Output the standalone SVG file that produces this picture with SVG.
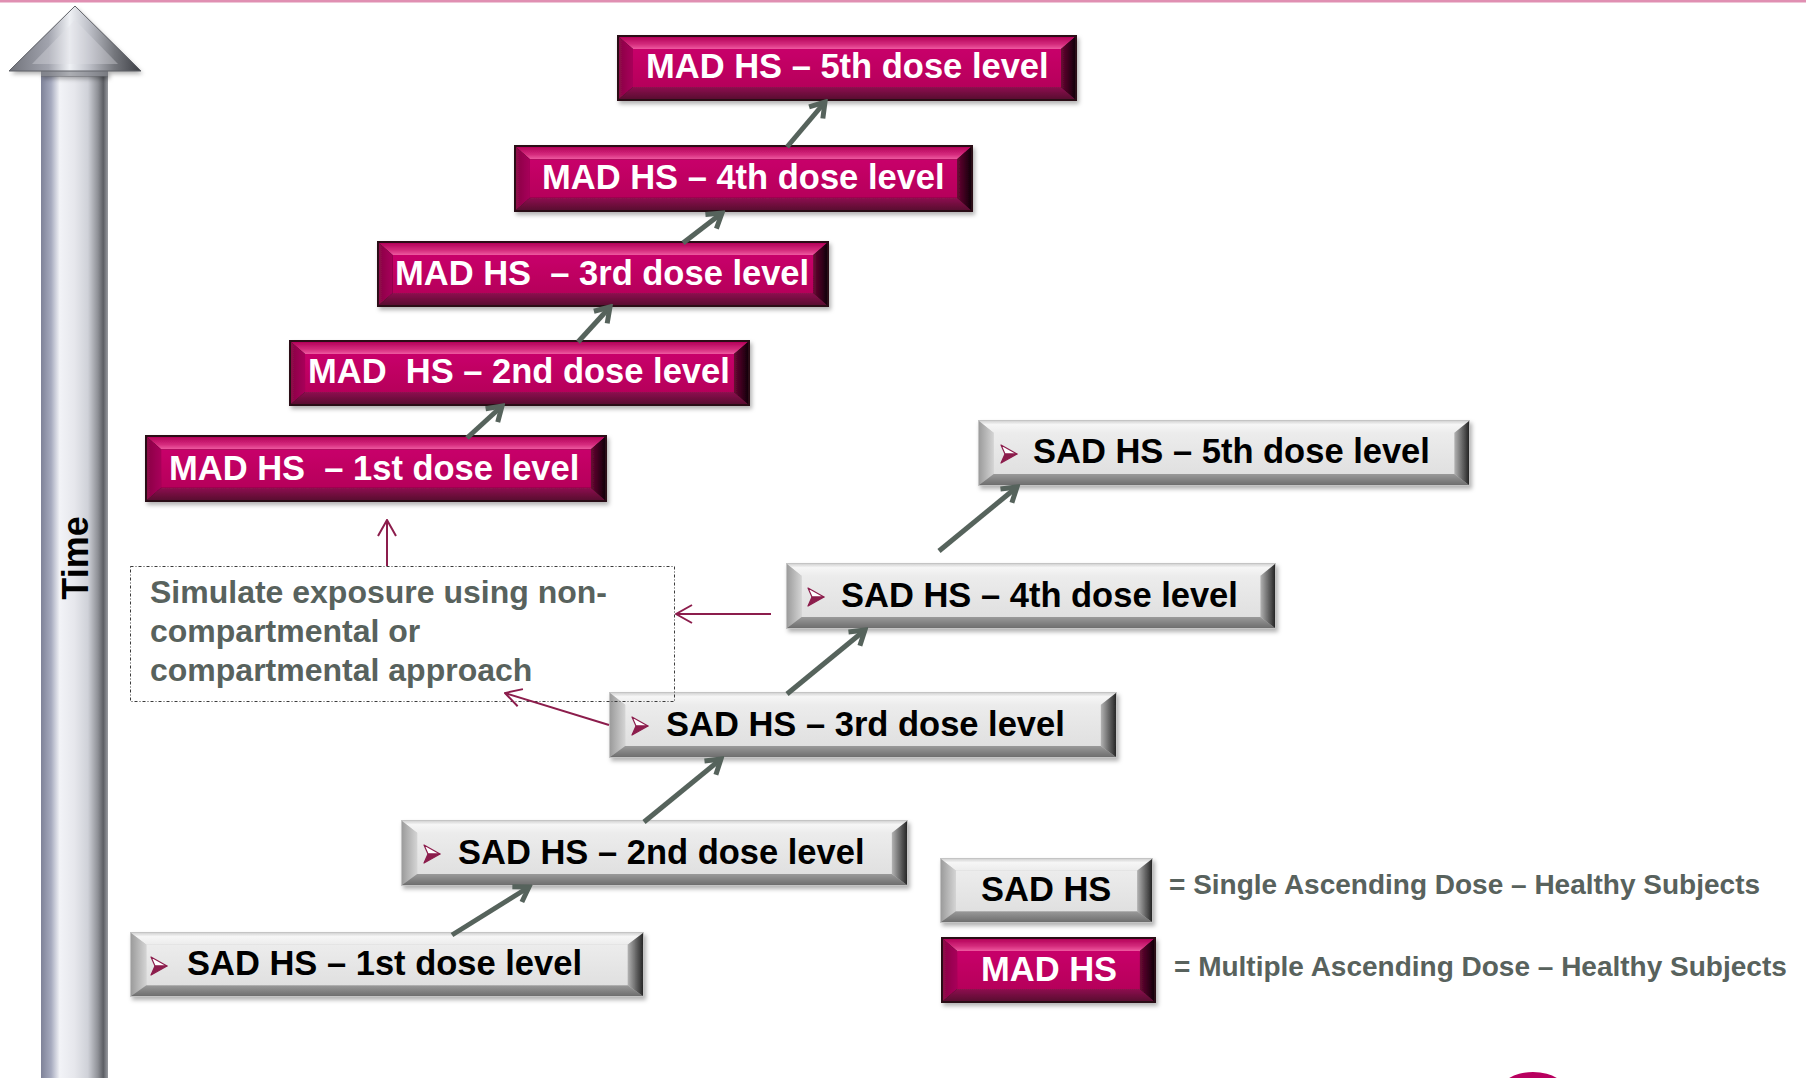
<svg xmlns="http://www.w3.org/2000/svg" xmlns:xlink="http://www.w3.org/1999/xlink" width="1806" height="1078" viewBox="0 0 1806 1078">
<style>
.mt{font-family:"Liberation Sans",Arial,sans-serif;font-weight:bold;font-size:34.5px;fill:#ffffff}
.st{font-family:"Liberation Sans",Arial,sans-serif;font-weight:bold;font-size:34.5px;fill:#000000}
.gt{font-family:"Liberation Sans",Arial,sans-serif;font-weight:bold;font-size:32px;fill:#58625d}
.lt{font-family:"Liberation Sans",Arial,sans-serif;font-weight:bold;font-size:28px;fill:#58625d}
.tt{font-family:"Liberation Sans",Arial,sans-serif;font-weight:bold;font-size:36px;fill:#000000}
.conn{fill:none;stroke:#56635c;stroke-width:5;marker-end:url(#ga)}
.link{fill:none;stroke:#8c1d4c;stroke-width:2;marker-end:url(#ma)}
</style>
<defs>
<filter id="sh" x="-5%" y="-20%" width="112%" height="150%">
<feDropShadow dx="2" dy="3" stdDeviation="2" flood-color="#000" flood-opacity="0.3"/>
</filter>
<linearGradient id="mTop" x1="0" y1="0" x2="0" y2="1"><stop offset="0" stop-color="#b4005a"/><stop offset="0.6" stop-color="#d42a7c"/><stop offset="1" stop-color="#ee5aa0"/></linearGradient>
<linearGradient id="mFace" x1="0" y1="0" x2="0" y2="1"><stop offset="0" stop-color="#c8066a"/><stop offset="1" stop-color="#b6005a"/></linearGradient>
<linearGradient id="mBot" x1="0" y1="0" x2="0" y2="1"><stop offset="0" stop-color="#8e1250"/><stop offset="1" stop-color="#5a0a30"/></linearGradient>
<linearGradient id="mLeft" x1="0" y1="0" x2="1" y2="0"><stop offset="0" stop-color="#8a0846"/><stop offset="1" stop-color="#a8005a"/></linearGradient>
<linearGradient id="mRight" x1="0" y1="0" x2="1" y2="0"><stop offset="0" stop-color="#6a0834"/><stop offset="1" stop-color="#14000a"/></linearGradient>
<linearGradient id="sTop" x1="0" y1="0" x2="0" y2="1"><stop offset="0" stop-color="#d4d4d4"/><stop offset="0.3" stop-color="#f6f6f6"/><stop offset="1" stop-color="#ececec"/></linearGradient>
<linearGradient id="sFace" x1="0" y1="0" x2="0" y2="1"><stop offset="0" stop-color="#ececec"/><stop offset="1" stop-color="#e0e0e0"/></linearGradient>
<linearGradient id="sBot" x1="0" y1="0" x2="0" y2="1"><stop offset="0" stop-color="#9a9a9a"/><stop offset="1" stop-color="#6e6e6e"/></linearGradient>
<linearGradient id="sLeft" x1="0" y1="0" x2="1" y2="0"><stop offset="0" stop-color="#9c9c9c"/><stop offset="1" stop-color="#d4d4d4"/></linearGradient>
<linearGradient id="sRight" x1="0" y1="0" x2="1" y2="0"><stop offset="0" stop-color="#b4b4b4"/><stop offset="1" stop-color="#262626"/></linearGradient>
<linearGradient id="shaftG" gradientUnits="userSpaceOnUse" x1="41" y1="0" x2="108" y2="0">
<stop offset="0" stop-color="#7e8298"/><stop offset="0.15" stop-color="#a6aabe"/><stop offset="0.28" stop-color="#f2f3f7"/><stop offset="0.5" stop-color="#e6e7ec"/><stop offset="0.7" stop-color="#cfd1d8"/><stop offset="0.85" stop-color="#8e9096"/><stop offset="0.93" stop-color="#5c5e64"/><stop offset="1" stop-color="#9a9ca2"/>
</linearGradient>
<linearGradient id="headG" gradientUnits="userSpaceOnUse" x1="9" y1="0" x2="141" y2="0">
<stop offset="0" stop-color="#70727a"/><stop offset="0.3" stop-color="#a2a4ae"/><stop offset="0.46" stop-color="#eef0f4"/><stop offset="0.6" stop-color="#c0c2ca"/><stop offset="0.8" stop-color="#74767c"/><stop offset="1" stop-color="#3c3e44"/>
</linearGradient>
<marker id="ga" viewBox="0 0 24 24" refX="20" refY="12" markerWidth="24" markerHeight="24" markerUnits="userSpaceOnUse" orient="auto">
<path d="M6,3 L20,12 L6,21" fill="none" stroke="#56635c" stroke-width="5"/>
</marker>
<marker id="ma" viewBox="0 0 20 20" refX="19" refY="10" markerWidth="20" markerHeight="20" markerUnits="userSpaceOnUse" orient="auto">
<path d="M3,1 L19,10 L3,19" fill="none" stroke="#8c1d4c" stroke-width="2"/>
</marker>
<symbol id="madBtn" viewBox="0 0 460 66" preserveAspectRatio="none">
<rect x="0" y="0" width="460" height="66" fill="#2a0a18"/>
<polygon points="2,2 458,2 444,14 16,14" fill="url(#mTop)"/>
<polygon points="2,2 16,14 16,52 2,64" fill="url(#mLeft)"/>
<polygon points="2,64 458,64 444,52 16,52" fill="url(#mBot)"/>
<polygon points="458,2 444,14 444,52 458,64" fill="url(#mRight)"/>
<rect x="16" y="14" width="428" height="38" fill="url(#mFace)"/>
</symbol>
<symbol id="madSm" viewBox="0 0 214 66" preserveAspectRatio="none">
<rect x="0" y="0" width="214" height="66" fill="#2a0a18"/>
<polygon points="2,2 212,2 198,14 16,14" fill="url(#mTop)"/>
<polygon points="2,2 16,14 16,52 2,64" fill="url(#mLeft)"/>
<polygon points="2,64 212,64 198,52 16,52" fill="url(#mBot)"/>
<polygon points="212,2 198,14 198,52 212,64" fill="url(#mRight)"/>
<rect x="16" y="14" width="182" height="38" fill="url(#mFace)"/>
</symbol>
<symbol id="sadBtn" viewBox="0 0 500 66" preserveAspectRatio="none">
<rect x="0" y="0" width="500" height="66" fill="#c4c4c4"/>
<polygon points="1,1 499,1 484,13 16,13" fill="url(#sTop)"/>
<polygon points="1,1 16,13 16,54 1,65" fill="url(#sLeft)"/>
<polygon points="1,65 499,65 484,54 16,54" fill="url(#sBot)"/>
<polygon points="499,1 484,13 484,54 499,65" fill="url(#sRight)"/>
<rect x="16" y="13" width="468" height="41" fill="url(#sFace)"/>
</symbol>
<symbol id="sadSm" viewBox="0 0 214 66" preserveAspectRatio="none">
<rect x="0" y="0" width="214" height="66" fill="#c4c4c4"/>
<polygon points="1,1 213,1 198,13 16,13" fill="url(#sTop)"/>
<polygon points="1,1 16,13 16,54 1,65" fill="url(#sLeft)"/>
<polygon points="1,65 213,65 198,54 16,54" fill="url(#sBot)"/>
<polygon points="213,1 198,13 198,54 213,65" fill="url(#sRight)"/>
<rect x="16" y="13" width="182" height="41" fill="url(#sFace)"/>
</symbol>
<g id="bul">
<path d="M0,-9 L16,0 L4,0 Z" fill="#ffffff" stroke="#8c1d4c" stroke-width="1.2" stroke-linejoin="round"/>
<path d="M4,0 L16,0 L0,9 Z" fill="#8c1d4c" stroke="#8c1d4c" stroke-width="1.2" stroke-linejoin="round"/>
</g>
</defs>
<rect x="0" y="0" width="1806" height="1078" fill="#ffffff"/>
<rect x="0" y="0" width="1806" height="2.5" fill="#e08fb2"/>
<ellipse cx="1533" cy="1096" rx="36" ry="24" fill="#b8005f"/>

<g id="time-axis">
<rect x="41" y="68" width="67" height="1012" fill="url(#shaftG)"/>
<polygon points="75,6 141,71 108,71 108,76 41,76 41,71 9,71" fill="url(#headG)" filter="url(#sh)"/>
<polygon points="75,6 141,71 9,71" fill="url(#headG)" stroke="#5e6066" stroke-width="1"/>
<polygon points="75,20 118,64 32,64" fill="#dfe0e6" opacity="0.35"/>
<rect x="41" y="71" width="67" height="6" fill="#6a6c72" opacity="0.5"/>
<text class="tt" transform="translate(88,558) rotate(-90)" text-anchor="middle">Time</text>
</g>

<g id="mad5"><use href="#madBtn" x="617" y="35" width="460" height="66" filter="url(#sh)"/><text class="mt" x="646" y="78">MAD HS – 5th dose level</text></g>
<g id="mad4"><use href="#madBtn" x="514" y="145" width="459" height="67" filter="url(#sh)"/><text class="mt" x="542" y="189">MAD HS – 4th dose level</text></g>
<g id="mad3"><use href="#madBtn" x="377" y="241" width="452" height="66" filter="url(#sh)"/><text class="mt" x="395" y="285" xml:space="preserve">MAD HS  – 3rd dose level</text></g>
<g id="mad2"><use href="#madBtn" x="289" y="340" width="461" height="66" filter="url(#sh)"/><text class="mt" x="308" y="383" xml:space="preserve">MAD  HS – 2nd dose level</text></g>
<g id="mad1"><use href="#madBtn" x="145" y="435" width="462" height="67" filter="url(#sh)"/><text class="mt" x="169" y="480" xml:space="preserve">MAD HS  – 1st dose level</text></g>

<g id="sad5"><use href="#sadBtn" x="978" y="420" width="492" height="66" filter="url(#sh)"/><use href="#bul" x="1001" y="454"/><text class="st" x="1033" y="463">SAD HS – 5th dose level</text></g>
<g id="sad4"><use href="#sadBtn" x="786" y="563" width="490" height="66" filter="url(#sh)"/><use href="#bul" x="808" y="597"/><text class="st" x="841" y="607">SAD HS – 4th dose level</text></g>
<g id="sad3"><use href="#sadBtn" x="609" y="692" width="508" height="66" filter="url(#sh)"/><use href="#bul" x="632" y="726"/><text class="st" x="666" y="736">SAD HS – 3rd dose level</text></g>
<g id="sad2"><use href="#sadBtn" x="401" y="820" width="507" height="66" filter="url(#sh)"/><use href="#bul" x="424" y="854"/><text class="st" x="458" y="864">SAD HS – 2nd dose level</text></g>
<g id="sad1"><use href="#sadBtn" x="130" y="932" width="514" height="65" filter="url(#sh)"/><use href="#bul" x="151" y="966"/><text class="st" x="187" y="975">SAD HS – 1st dose level</text></g>

<g id="simulate">
<rect x="130.5" y="566.5" width="544" height="135" fill="none" stroke="#3a3a3a" stroke-width="1" stroke-dasharray="3 2 1 2"/>
<text class="gt" x="150" y="603">Simulate exposure using non-</text>
<text class="gt" x="150" y="642">compartmental or</text>
<text class="gt" x="150" y="681">compartmental approach</text>
</g>

<g id="legend-sad"><use href="#sadSm" x="940" y="858" width="213" height="65" filter="url(#sh)"/><text class="st" x="981" y="901">SAD HS</text><text class="lt" x="1169" y="894">= Single Ascending Dose – Healthy Subjects</text></g>
<g id="legend-mad"><use href="#madSm" x="941" y="937" width="215" height="66" filter="url(#sh)"/><text class="mt" x="981" y="981">MAD HS</text><text class="lt" x="1174" y="976">= Multiple Ascending Dose – Healthy Subjects</text></g>

<g id="connectors">
<line class="conn" x1="787" y1="147" x2="825" y2="102"/>
<line class="conn" x1="683" y1="243" x2="722" y2="213"/>
<line class="conn" x1="578" y1="342" x2="610" y2="307"/>
<line class="conn" x1="467" y1="438" x2="502" y2="406"/>
<line class="conn" x1="452" y1="935" x2="529" y2="887"/>
<line class="conn" x1="644" y1="822" x2="721" y2="759"/>
<line class="conn" x1="787" y1="694" x2="865" y2="630"/>
<line class="conn" x1="939" y1="551" x2="1017" y2="487"/>
<line class="link" x1="387" y1="566" x2="387" y2="520"/>
<line class="link" x1="771" y1="614" x2="676" y2="614"/>
<line class="link" x1="609" y1="725" x2="505" y2="693"/>
</g>
</svg>
